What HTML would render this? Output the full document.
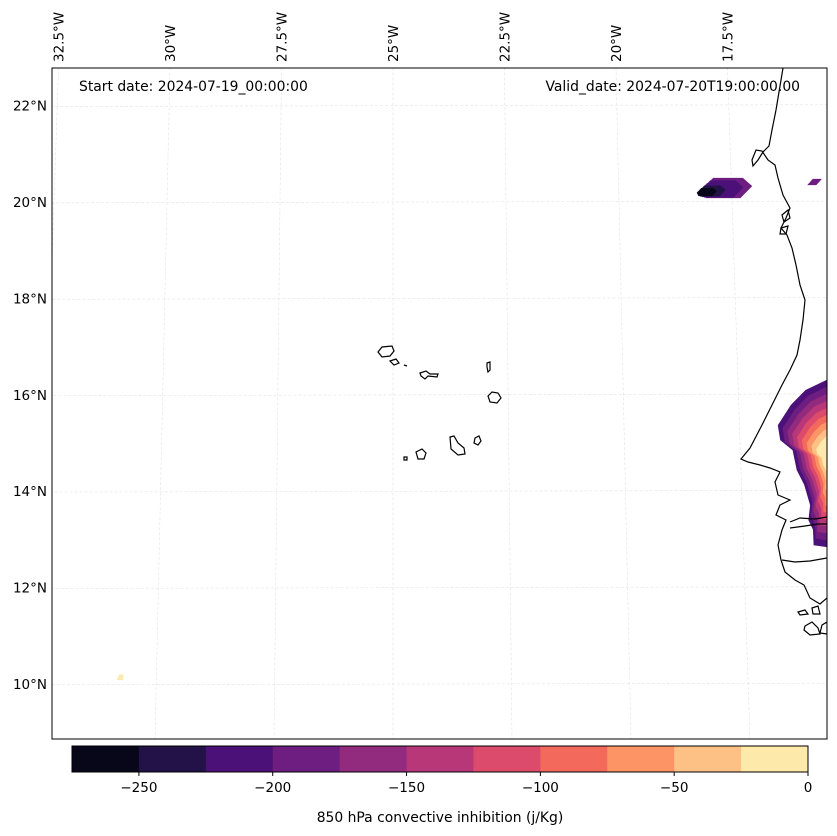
<!DOCTYPE html>
<html><head><meta charset="utf-8"><style>
html,body{margin:0;padding:0;background:#fff;}
svg{display:block;font-family:"DejaVu Sans","Liberation Sans",sans-serif;}
</style></head><body>
<svg id="chart" width="837" height="836" viewBox="0 0 837 836" xmlns="http://www.w3.org/2000/svg">
<defs><clipPath id="mapclip"><rect x="52" y="68" width="775" height="671"/></clipPath></defs>
<rect x="0" y="0" width="837" height="836" fill="#fff"/>
<g id="grid" clip-path="url(#mapclip)"></g>
<g id="fills" clip-path="url(#mapclip)"></g>
<g id="coast" clip-path="url(#mapclip)" fill="none" stroke="#000" stroke-width="1.2">
<path d="M783,68 L781,80 L779,92 L776,110 L772,130 L769,146 L763,152 L758,160 L753,166 L752,160 L756,150 L762,151 L768,160 L775,165 L778,178 L783,195 L790,208 L786,218 L781,228 L787,235 L792,248 L796,265 L800,285 L805,300 L803,320 L800,340 L797,355 L790,370 L782,385 L772,405 L762,425 L750,448 L741,459 L748,462 L760,465 L770,468 L780,472 L775,482 L778,495 L790,500 L780,505 L776,515 L786,520 L782,530 L778,545 L781,560 L785,572 L795,580 L804,585 L810,598 L820,604 L827,598"/>
<path d="M790,522 L800,518 L815,519 L827,517"/>
<path d="M790,528 L805,526 L818,524 L827,524"/>
<path d="M782,560 L795,562 L810,561 L827,558"/>
<path d="M798,612 L805,610 L808,614 L800,615 Z M812,608 L818,606 L820,614 L813,614 Z M805,626 L812,622 L818,628 L820,634 L810,635 L804,630 Z M822,625 L827,622 L827,634 L820,633 Z"/>
<path d="M782,215 L788,210 L790,218 L784,222 Z M781,228 L788,226 L786,234 L780,234 Z"/>
<path d="M378,352 L382,347 L392,346 L394,351 L390,356 L382,357 Z"/>
<path d="M390,361 L396,359 L399,363 L394,365 Z"/>
<path d="M404,365 L407,366"/>
<path d="M420,373 L426,371 L430,374 L438,374 L437,377 L428,376 L425,379 L421,376 Z"/>
<path d="M487,363 L490,362 L490,370 L488,372 L487,367 Z"/>
<path d="M488,396 L492,392 L498,393 L501,398 L497,403 L490,402 Z"/>
<path d="M450,437 L454,436 L458,443 L464,448 L465,454 L458,455 L451,449 Z"/>
<path d="M475,438 L479,436 L481,441 L478,445 L474,443 Z"/>
<path d="M416,452 L422,449 L426,453 L424,459 L418,459 Z"/>
<path d="M404,457 L407,457 L407,460 L404,460 Z"/>
</g>
<rect x="52" y="68" width="775" height="671" fill="none" stroke="#000" stroke-width="1"/>
<g id="lonlabels" font-size="13.5" fill="#000"></g>
<g id="latlabels" font-size="13.5" fill="#000"></g>
<text x="79" y="91" font-size="13.9">Start date: 2024-07-19_00:00:00</text>
<text x="800" y="91" font-size="13.9" text-anchor="end">Valid_date: 2024-07-20T19:00:00.00</text>
<g id="cbar"></g>
<text x="440" y="822" font-size="13.9" text-anchor="middle">850 hPa convective inhibition (j/Kg)</text>
</svg>
<script>
// Colorbar data
const binEdges = [-275,-250,-225,-200,-175,-150,-125,-100,-75,-50,-25,0];
const binColors = ["#08071a","#221247","#4c1178","#6e1e81","#922b7e","#b83778","#dc4a6c","#f3695c","#fc9466","#fec185","#fde9a9"];
const cbarTicks = [-250,-200,-150,-100,-50,0];
const cbarTickLabels = ["\u2212250","\u2212200","\u2212150","\u2212100","\u221250","0"];
// Map gridlines
const lonTicks = [-32.5,-30,-27.5,-25,-22.5,-20,-17.5];
const lonTickLabels = ["32.5°W","30°W","27.5°W","25°W","22.5°W","20°W","17.5°W"];
const latTicks = [10,12,14,16,18,20,22];
const latTickLabels = ["10°N","12°N","14°N","16°N","18°N","20°N","22°N"];
// CIN contour data: outer polygon (lon,lat) per region + levels
const senegalOuter = [[-15.57,16.31],[-16.04,16.10],[-16.37,15.79],[-16.67,15.37],[-16.63,15.06],[-16.37,14.85],[-16.30,14.44],[-16.15,14.13],[-16.04,13.71],[-16.09,13.40],[-16.00,13.20],[-16.00,12.88],[-15.57,12.82]];
const senegalCenter = [-15.4,14.6];
const senegalLevels = [-210,-185,-160,-135,-110,-85,-60,-35,-15];
const capeBlancOuter = [[-17.90,20.50],[-17.24,20.50],[-17.04,20.33],[-17.31,20.08],[-18.07,20.08],[-18.16,20.25]];
const capeBlancCenter = [-18.35,20.15];
const capeBlancLevels = [-185,-205,-225,-245,-262];
const smallPatch = [[-15.82,20.35],[-15.69,20.48],[-15.49,20.48],[-15.62,20.35]];
const smallPatchLevel = -190;
const yellowDot = [[-30.84,10.08],[-30.78,10.20],[-30.70,10.20],[-30.70,10.08]];
const yellowDotLevel = -10;

const NS = "http://www.w3.org/2000/svg";
function Y(lat){ return 202 - (lat-20)*48.2; }
function X(lon,lat){ const y=Y(lat); const k=44.6+(y-68)/671*3; return 393+(lon+25)*k; }
function colorFor(v){ for(let i=0;i<binColors.length;i++){ if(v>=binEdges[i]&&v<binEdges[i+1]) return binColors[i]; } return binColors[binColors.length-1]; }
function mk(tag,attrs,parent){ const e=document.createElementNS(NS,tag); for(const a in attrs) e.setAttribute(a,attrs[a]); parent.appendChild(e); return e; }

const grid=document.getElementById('grid');
lonTicks.forEach(lon=>{
  const l=mk('line',{x1:X(lon,23),y1:Y(23),x2:X(lon,8.5),y2:Y(8.5),stroke:'#e2e2e2','stroke-width':0.6,'stroke-dasharray':'3,2'},grid);
  
  
});
latTicks.forEach(lat=>{
  const l=mk('line',{x1:X(-34,lat),y1:Y(lat)+1,x2:X(-14,lat),y2:Y(lat)-1,stroke:'#e2e2e2','stroke-width':0.6,'stroke-dasharray':'3,2'},grid);
  
  
});
const lonG=document.getElementById('lonlabels');
lonTicks.forEach((lon,i)=>{
  const x=X(lon,22.78)+5, y=62;
  const t=mk('text',{x:x,y:y,transform:`rotate(-90 ${x} ${y})`},lonG);
  t.textContent=lonTickLabels[i];
  
  
});
const latG=document.getElementById('latlabels');
latTicks.forEach((lat,i)=>{
  const t=mk('text',{x:47,y:Y(lat)+5,'text-anchor':'end'},latG);
  t.textContent=latTickLabels[i];
  
  
});

const fills=document.getElementById('fills');
function poly(pts,color){
  return mk('polygon',{points:pts.map(q=>X(q[0],q[1]).toFixed(1)+','+Y(q[1]).toFixed(1)).join(' '),fill:color},fills);
}
function nested(outer,center,levels,name,shrink){
  levels.forEach((lv,i)=>{
    const s=1-shrink*i/levels.length;
    const pts=outer.map(q=>[center[0]+(q[0]-center[0])*s, center[1]+(q[1]-center[1])*s]);
    const p=poly(pts,colorFor(lv));
    
    
  });
}
nested(senegalOuter,senegalCenter,senegalLevels,'senegal-cin-band',0.72);
nested(capeBlancOuter,capeBlancCenter,capeBlancLevels,'cape-blanc-cin-band',0.75);
const sp=poly(smallPatch,colorFor(smallPatchLevel));


const yd=poly(yellowDot,colorFor(yellowDotLevel));



// Colorbar
const cb=document.getElementById('cbar');
const cbX0=72, cbX1=808, cbY=746, cbH=26;
function cbx(v){ return cbX0+(v-binEdges[0])/(binEdges[binEdges.length-1]-binEdges[0])*(cbX1-cbX0); }
binColors.forEach((c,i)=>{
  const r=mk('rect',{x:cbx(binEdges[i]),y:cbY,width:cbx(binEdges[i+1])-cbx(binEdges[i])+0.5,height:cbH,fill:c},cb);
  
  
});
const fr=mk('rect',{x:cbX0,y:cbY,width:cbX1-cbX0,height:cbH,fill:'none',stroke:'#000','stroke-width':1},cb);


cbarTicks.forEach((v,i)=>{
  const x=cbx(v);
  const tk=mk('line',{x1:x,y1:cbY+cbH,x2:x,y2:cbY+cbH+4,stroke:'#000'},cb);
  
  
  const t=mk('text',{x:x,y:cbY+cbH+20,'text-anchor':'middle','font-size':13.5},cb);
  t.textContent=cbarTickLabels[i];
  
  
});
</script>
</body></html>
